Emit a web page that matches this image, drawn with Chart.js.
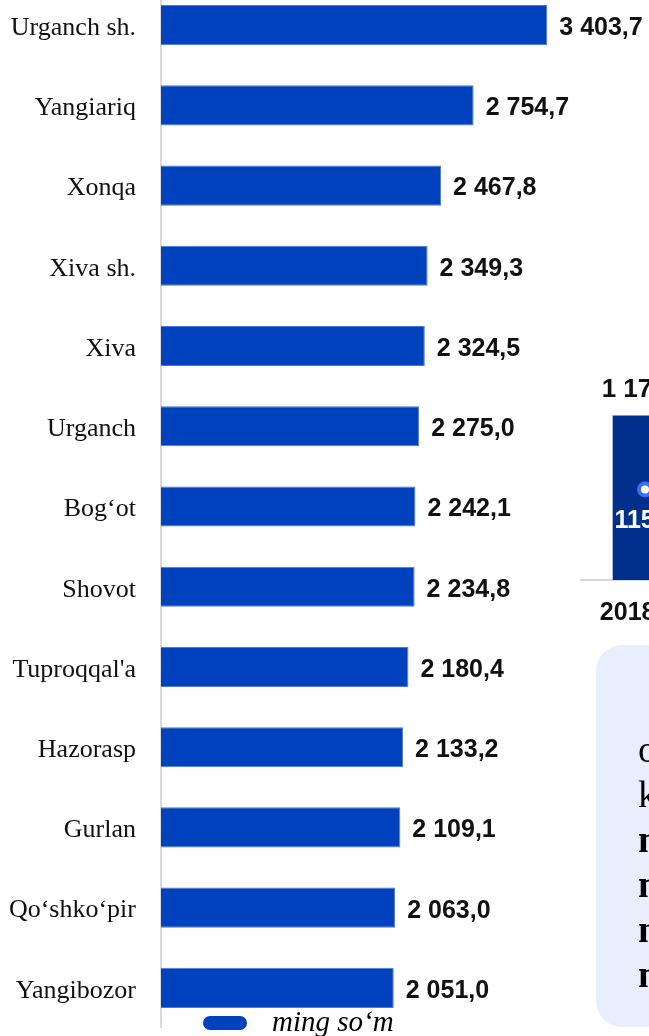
<!DOCTYPE html>
<html>
<head>
<meta charset="utf-8">
<script src="https://cdn.jsdelivr.net/npm/chart.js@4.4.1/dist/chart.umd.min.js"></script>
<style>
  html, body { margin: 0; padding: 0; width: 649px; height: 1036px; overflow: hidden; background: #fff; }
  #principal { position: absolute; left: 0; top: -15px; width: 649px; height: 1043px; }
  #secundario { position: absolute; left: 580px; top: 360px; width: 130px; height: 290px; }
  #leyenda { position: absolute; left: 203px; top: 1005px; }
  #leyenda .caja { position: absolute; left: 0; top: 11px; width: 44px; height: 14px; border-radius: 7px; }
  #leyenda .texto { position: absolute; left: 69px; top: 0; white-space: nowrap; font: italic 29px/33px "Liberation Serif", "Times New Roman", serif; color: #000; }
  #nota { position: absolute; left: 596px; top: 645px; width: 200px; height: 382px; border-radius: 26px; background: #e8eefc; }
  #nota p { margin: 0; padding: 82px 0 0 42px; font: 38px/45px "Liberation Serif", "Times New Roman", serif; color: #000; white-space: nowrap; }
</style>
</head>
<body>
<div id="principal"><canvas id="grafica"></canvas></div>
<div id="secundario"><canvas id="grafica2"></canvas></div>
<div id="leyenda"></div>
<div id="nota"><p>o‘rtacha<br>ko‘rsatkich<br><b>ming so‘m</b><br><b>ming so‘m</b><br><b>ming so‘m</b><br><b>ming so‘m</b></p></div>
<script>
//datos de la gráfica principal
const distritos = ['Urganch sh.', 'Yangiariq', 'Xonqa', 'Xiva sh.', 'Xiva', 'Urganch', 'Bog‘ot', 'Shovot', "Tuproqqal'a", 'Hazorasp', 'Gurlan', 'Qo‘shko‘pir', 'Yangibozor']
const salarios = [3403.7, 2754.7, 2467.8, 2349.3, 2324.5, 2275.0, 2242.1, 2234.8, 2180.4, 2133.2, 2109.1, 2063.0, 2051.0]
const unidad = 'ming so‘m'

//datos del trozo de gráfica de la derecha
const anios = ['2018 yil']
const valorBarra = [1172.4]
const valorLinea = [115.3]

const azul = '#0041be'
const serif = '"Liberation Serif", "Times New Roman", serif'
const sans = '"Liberation Sans", Arial, sans-serif'

//formato 3 403,7
function formato(v) {
    const partes = v.toFixed(1).split('.')
    return partes[0].replace(/\B(?=(\d{3})+(?!\d))/g, ' ') + ',' + partes[1]
}

//etiquetas de valor al final de cada barra
const etiquetasValor = {
    id: 'etiquetasValor',
    afterDatasetsDraw(chart) {
        const ctx = chart.ctx
        const meta = chart.getDatasetMeta(0)
        ctx.save()
        ctx.font = `bold 25px ${sans}`
        ctx.fillStyle = '#111'
        ctx.textAlign = 'left'
        ctx.textBaseline = 'middle'
        meta.data.forEach((barra, i) => {
            ctx.fillText(formato(salarios[i]), barra.x + 12, barra.y + 3)
        })
        ctx.restore()
    }
}

//leyenda en html
const leyendaHtml = {
    id: 'leyendaHtml',
    afterUpdate(chart) {
        const cont = document.querySelector('#leyenda')
        cont.innerHTML = ''
        chart.data.datasets.forEach(ds => {
            const caja = document.createElement('span')
            caja.className = 'caja'
            caja.style.background = ds.backgroundColor
            const texto = document.createElement('span')
            texto.className = 'texto'
            texto.textContent = ds.label
            cont.appendChild(caja)
            cont.appendChild(texto)
        })
    }
}

new Chart(document.querySelector('#grafica'), {
    type: 'bar',
    data: {
        labels: distritos,
        datasets: [{
            label: unidad,
            data: salarios,
            backgroundColor: azul,
            borderColor: '#4f79d6',
            borderWidth: 1,
            barPercentage: 0.5,
            categoryPercentage: 1
        }]
    },
    options: {
        indexAxis: 'y',
        responsive: true,
        maintainAspectRatio: false,
        animation: false,
        layout: { padding: 0, autoPadding: false },
        plugins: { legend: { display: false }, tooltip: { enabled: false } },
        scales: {
            x: { display: false, min: 0, max: 4300 },
            y: {
                grid: { display: false, drawTicks: false },
                border: { color: '#d9d9d9', width: 2 },
                ticks: { padding: 25, labelOffset: 3, color: '#111', font: { family: serif, size: 26 } },
                //quitamos el relleno que añade chart.js arriba y abajo
                afterFit: s => {
                    s.width = 161
                    s.paddingTop = 0
                    s.paddingBottom = 0
                }
            }
        }
    },
    plugins: [etiquetasValor, leyendaHtml]
})

//etiquetas del trozo derecho
const etiquetasSec = {
    id: 'etiquetasSec',
    afterDatasetsDraw(chart) {
        const ctx = chart.ctx
        ctx.save()
        ctx.textAlign = 'center'
        const barras = chart.getDatasetMeta(1).data
        ctx.font = `bold 26px ${sans}`
        ctx.fillStyle = '#111'
        ctx.textBaseline = 'alphabetic'
        barras.forEach((b, i) => ctx.fillText(formato(valorBarra[i]), b.x, b.y - 19))
        const puntos = chart.getDatasetMeta(0).data
        ctx.font = `bold 25px ${sans}`
        ctx.fillStyle = '#fff'
        ctx.textBaseline = 'middle'
        puntos.forEach((p, i) => ctx.fillText(formato(valorLinea[i]), p.x, p.y + 32))
        ctx.restore()
    }
}

new Chart(document.querySelector('#grafica2'), {
    data: {
        labels: anios,
        datasets: [{
            type: 'line',
            data: valorLinea,
            yAxisID: 'y1',
            borderColor: '#3d6ff5',
            pointBackgroundColor: '#fff',
            pointBorderColor: '#3d6ff5',
            pointBorderWidth: 4,
            pointRadius: 6,
            order: 0
        }, {
            type: 'bar',
            data: valorBarra,
            backgroundColor: '#00308c',
            barThickness: 64,
            order: 1
        }]
    },
    options: {
        responsive: true,
        maintainAspectRatio: false,
        animation: false,
        layout: { padding: 0, autoPadding: false },
        plugins: { legend: { display: false }, tooltip: { enabled: false } },
        scales: {
            x: {
                grid: { display: false, drawTicks: false },
                border: { color: '#d9d9d9', width: 2 },
                ticks: { padding: 18, color: '#111', font: { family: sans, size: 25, weight: 'bold' } },
                afterFit: s => { s.height = 70 }
            },
            y: { display: false, min: 0, max: 1570 },
            y1: { display: false, min: 0, max: 280 }
        }
    },
    plugins: [etiquetasSec]
})
</script>
</body>
</html>
